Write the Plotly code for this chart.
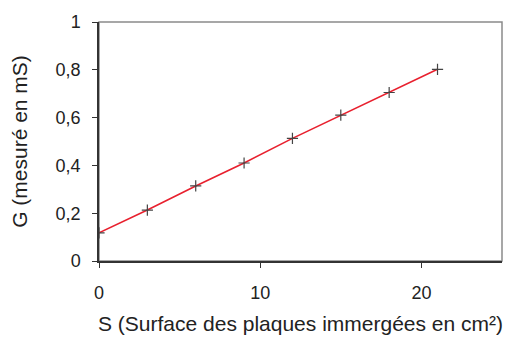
import plotly.graph_objects as go

S = [0, 3, 6, 9, 12, 15, 18, 21]
G = [0.118, 0.213, 0.314, 0.41, 0.513, 0.61, 0.705, 0.802]
x_ticks = [0, 10, 20]
y_ticks = [0, 0.2, 0.4, 0.6, 0.8, 1]

fig = go.Figure()
fig.add_trace(go.Scatter(
    x=S, y=G, mode="lines+markers",
    line=dict(color="#e8202e", width=1.6),
    marker=dict(symbol="cross-thin", size=8, line=dict(color="#444444", width=1.2), color="#444444"),
    showlegend=False,
))

fig.add_shape(type="rect", xref="paper", yref="paper", x0=0, y0=0, x1=1, y1=1,
              line=dict(color="#8a8a8a", width=1.5), layer="below")

fig.update_layout(
    width=513, height=347,
    margin=dict(l=99, r=11, t=22, b=86),
    paper_bgcolor="white", plot_bgcolor="white",
    separators=", ",
    font=dict(family="Liberation Sans, Arial, sans-serif", size=18, color="#222222"),
    xaxis=dict(
        range=[0, 25], tickvals=x_ticks, showgrid=False, zeroline=False,
        showline=True, linecolor="#333333", linewidth=1.5,
        ticks="outside", ticklen=5, tickcolor="#333333", ticklabelstandoff=10,
        title=dict(text="S (Surface des plaques immergées en cm²)", font=dict(size=21), standoff=14),
    ),
    yaxis=dict(
        range=[0, 1], tickvals=y_ticks, tickformat=".1~f", showgrid=False, zeroline=False,
        showline=True, linecolor="#333333", linewidth=1.5,
        ticks="outside", ticklen=5, tickcolor="#333333", ticklabelstandoff=8,
        title=dict(text="G (mesuré en mS)", font=dict(size=21), standoff=22),
    ),
)

fig.write_html("out.html", config={"displayModeBar": False},
               post_script="document.body.style.margin='0';")
